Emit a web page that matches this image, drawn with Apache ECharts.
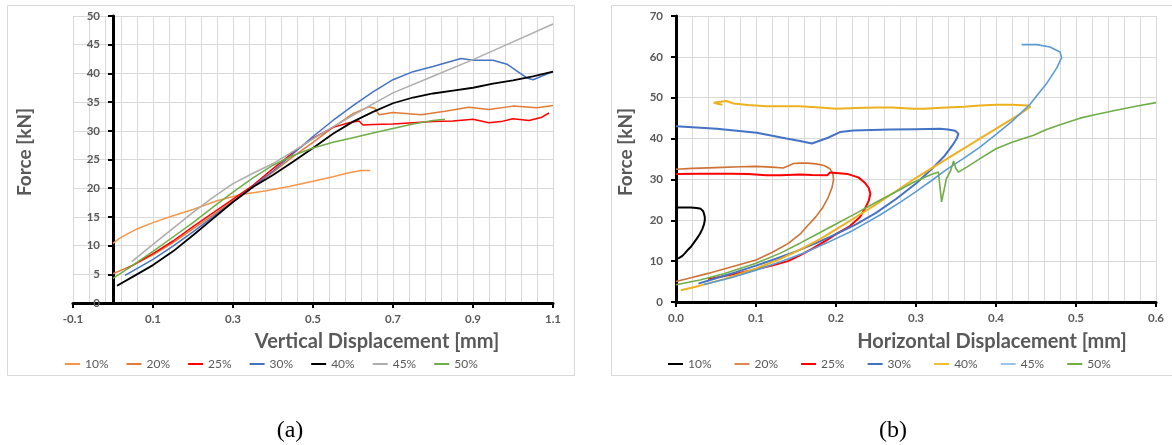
<!DOCTYPE html>
<html>
<head>
<meta charset="utf-8">
<script src="https://cdn.jsdelivr.net/npm/echarts@6/dist/echarts.min.js"></script>
<style>
  html, body { margin: 0; padding: 0; background: #fff; }
  #chart { width: 1172px; height: 445px; }
</style>
</head>
<body>
<div id="chart"></div>
<script>
// Series names shared by both panels
const seriesNames = ['10%', '20%', '25%', '30%', '40%', '45%', '50%'];

// ---- Panel (a): vertical displacement [mm] vs force [kN] ----
const vX10 = [0, 0.015, 0.035, 0.06, 0.1, 0.15, 0.2, 0.26, 0.32, 0.38, 0.44, 0.5, 0.55, 0.59, 0.62, 0.643];
const vF10 = [10.4, 11.2, 12.0, 12.9, 14.0, 15.2, 16.3, 17.8, 18.9, 19.5, 20.3, 21.2, 22.0, 22.7, 23.1, 23.1];

const vX20 = [0, 0.05, 0.1, 0.15, 0.2, 0.25, 0.3, 0.35, 0.4, 0.45, 0.5, 0.55, 0.6, 0.64, 0.655, 0.665, 0.7, 0.77, 0.83, 0.89, 0.94, 1.0, 1.06, 1.1];
const vF20 = [5.1, 6.6, 8.4, 10.5, 12.9, 15.3, 17.8, 20.3, 22.8, 25.5, 28.0, 30.6, 33.0, 34.2, 33.9, 32.8, 33.2, 32.8, 33.4, 34.1, 33.7, 34.3, 34.0, 34.4];

const vX25 = [0.035, 0.05, 0.1, 0.15, 0.2, 0.25, 0.3, 0.35, 0.4, 0.45, 0.5, 0.55, 0.59, 0.615, 0.625, 0.65, 0.7, 0.75, 0.8, 0.85, 0.9, 0.94, 0.97, 1.0, 1.04, 1.07, 1.09];
const vF25 = [6.0, 6.6, 8.6, 10.8, 13.3, 15.7, 18.1, 20.5, 23.4, 26.2, 28.7, 30.6, 31.4, 31.7, 31.0, 31.1, 31.2, 31.4, 31.6, 31.7, 32.0, 31.4, 31.6, 32.1, 31.8, 32.3, 33.1];

const vX30 = [0.03, 0.05, 0.1, 0.15, 0.2, 0.25, 0.3, 0.35, 0.4, 0.45, 0.5, 0.55, 0.6, 0.65, 0.7, 0.75, 0.8, 0.87, 0.9, 0.95, 0.985, 1.01, 1.035, 1.05, 1.1];
const vF30 = [4.8, 5.6, 7.6, 9.9, 12.4, 15.0, 17.6, 20.3, 23.0, 26.0, 29.0, 31.8, 34.4, 36.8, 38.9, 40.3, 41.2, 42.6, 42.3, 42.3, 41.6, 40.4, 39.2, 38.9, 40.3];

const vX40 = [0.01, 0.05, 0.1, 0.15, 0.2, 0.25, 0.3, 0.35, 0.4, 0.45, 0.5, 0.55, 0.6, 0.65, 0.7, 0.75, 0.8, 0.85, 0.9, 0.95, 1.0, 1.05, 1.1];
const vF40 = [3.0, 4.6, 6.6, 9.0, 11.8, 14.7, 17.6, 20.2, 22.3, 24.6, 27.0, 29.5, 31.6, 33.3, 34.8, 35.8, 36.5, 37.0, 37.5, 38.2, 38.8, 39.5, 40.3];

const vX45 = [0.047, 0.1, 0.15, 0.2, 0.25, 0.3, 0.35, 0.4, 0.45, 0.5, 0.55, 0.6, 0.65, 0.7, 0.8, 0.9, 1.0, 1.1];
const vF45 = [7.2, 10.2, 13.0, 15.8, 18.4, 20.8, 22.6, 24.3, 26.4, 28.6, 30.7, 32.7, 34.7, 36.6, 39.5, 42.4, 45.5, 48.6];

const vX50 = [0, 0.05, 0.1, 0.15, 0.2, 0.25, 0.3, 0.35, 0.4, 0.45, 0.5, 0.55, 0.6, 0.65, 0.7, 0.75, 0.8, 0.83];
const vF50 = [4.3, 6.6, 9.0, 11.5, 14.0, 16.7, 19.3, 21.8, 24.0, 25.7, 27.0, 28.0, 28.8, 29.6, 30.4, 31.2, 31.8, 32.0];

// ---- Panel (b): horizontal displacement [mm] vs force [kN] ----
const hX10 = [0.000, 0.004, 0.008, 0.011, 0.015, 0.019, 0.022, 0.026, 0.030, 0.033, 0.035, 0.036, 0.036, 0.035, 0.034, 0.031, 0.026, 0.018, 0.008, 0.000];
const hF10 = [10.5, 10.8, 11.3, 11.9, 12.8, 13.6, 14.4, 15.5, 16.7, 17.9, 19.0, 20.0, 20.8, 21.6, 22.2, 22.8, 23.0, 23.1, 23.1, 23.1];

const hX20 = [0, 0.02, 0.04, 0.06, 0.08, 0.1, 0.12, 0.14, 0.155, 0.165, 0.175, 0.183, 0.19, 0.195, 0.197, 0.196, 0.1925, 0.185, 0.175, 0.165, 0.155, 0.147, 0.14, 0.134, 0.12, 0.1, 0.08, 0.05, 0.02, 0.0];
const hF20 = [5.0, 6.0, 7.0, 8.1, 9.2, 10.3, 12.1, 14.3, 16.6, 18.8, 20.9, 23.0, 25.5, 28.0, 30.0, 31.5, 32.6, 33.4, 33.8, 34.0, 34.0, 33.9, 33.3, 32.8, 33.0, 33.2, 33.1, 32.9, 32.7, 32.5];

const hX25 = [0.04, 0.07, 0.1, 0.12, 0.14, 0.155, 0.17, 0.188, 0.2, 0.2175, 0.23, 0.236, 0.241, 0.243, 0.241, 0.236, 0.228, 0.215, 0.2, 0.1925, 0.189, 0.17, 0.155, 0.13, 0.113, 0.09, 0.07, 0.03, 0.0];
const hF25 = [5.6, 6.7, 8.0, 8.9, 10.0, 11.4, 13.0, 15.1, 16.6, 18.6, 20.8, 22.8, 24.8, 26.5, 27.9, 29.2, 30.5, 31.3, 31.6, 31.7, 31.0, 31.1, 31.2, 31.0, 31.0, 31.3, 31.4, 31.4, 31.3];

const hX30 = [0.028, 0.05, 0.075, 0.1, 0.125, 0.15, 0.175, 0.2, 0.225, 0.25, 0.275, 0.3, 0.32, 0.335, 0.345, 0.351, 0.353, 0.349, 0.34, 0.33, 0.3, 0.2675, 0.2217, 0.205, 0.19, 0.17, 0.155, 0.138, 0.101, 0.051, 0.0];
const hF30 = [4.5, 5.8, 7.3, 8.9, 10.6, 12.4, 14.4, 16.6, 19.0, 21.8, 25.2, 29.0, 32.6, 35.6, 38.2, 40.0, 41.2, 41.9, 42.2, 42.4, 42.3, 42.2, 42.0, 41.6, 40.2, 38.8, 39.4, 40.0, 41.4, 42.4, 43.0];

const hX40 = [0.006, 0.03, 0.06, 0.1, 0.13, 0.155, 0.18, 0.2, 0.225, 0.25, 0.275, 0.3, 0.33, 0.36, 0.39, 0.41, 0.43, 0.443, 0.44, 0.42, 0.4, 0.38, 0.36, 0.338, 0.31, 0.297, 0.27, 0.25, 0.225, 0.2, 0.18, 0.155, 0.113, 0.09, 0.072, 0.063, 0.055, 0.047, 0.052, 0.058];
const hF40 = [2.9, 4.0, 5.6, 8.2, 10.5, 12.8, 15.4, 17.8, 20.8, 23.9, 27.1, 30.4, 34.0, 37.6, 41.2, 43.6, 46.0, 47.8, 48.1, 48.3, 48.3, 48.1, 47.8, 47.6, 47.3, 47.3, 47.6, 47.6, 47.5, 47.3, 47.6, 47.9, 47.9, 48.2, 48.6, 49.2, 49.0, 48.8, 48.5, 48.3];

const hX45 = [0.035, 0.07, 0.1, 0.13, 0.16, 0.19, 0.22, 0.255, 0.28, 0.3, 0.32, 0.338, 0.36, 0.38, 0.4, 0.42, 0.4425, 0.463, 0.476, 0.482, 0.48, 0.4675, 0.451, 0.432];
const hF45 = [4.3, 6.0, 7.8, 9.8, 12.0, 14.6, 17.4, 21.3, 24.4, 27.0, 29.8, 32.4, 35.2, 37.9, 41.0, 44.2, 48.4, 53.4, 57.3, 59.8, 61.2, 62.4, 63.0, 63.0];

const hX50 = [0, 0.03, 0.06, 0.1, 0.13, 0.155, 0.176, 0.2, 0.225, 0.25, 0.275, 0.297, 0.3175, 0.328, 0.332, 0.338, 0.343, 0.347, 0.35, 0.353, 0.3634, 0.38, 0.4, 0.42, 0.447, 0.463, 0.48, 0.505, 0.525, 0.547, 0.575, 0.6];
const hF50 = [4.2, 5.4, 6.9, 9.5, 11.9, 14.4, 16.6, 19.1, 21.7, 24.4, 27.0, 29.3, 31.1, 31.8, 24.5, 30.2, 32.0, 34.5, 32.6, 31.8, 33.0, 35.1, 37.5, 39.1, 40.8, 42.2, 43.4, 45.0, 45.9, 46.8, 47.9, 48.8];

// Tick labels
const xTicksA = [-0.1, 0.1, 0.3, 0.5, 0.7, 0.9, 1.1];
const xTicksB = [0, 0.1, 0.2, 0.3, 0.4, 0.5, 0.6];

// Line colours per panel
const coloursA = ['#F7964B', '#E07B39', '#FF0000', '#4472C4', '#000000', '#ADADAD', '#70AD47'];
const coloursB = ['#000000', '#D07236', '#FF0000', '#4472C4', '#EDB120', '#5B9BD5', '#70AD47'];
const legendColoursB = ['#000000', '#E0874F', '#FF0000', '#4472C4', '#F2BE2C', '#9DC3E6', '#70AD47'];

const panelA = [[vX10, vF10], [vX20, vF20], [vX25, vF25], [vX30, vF30], [vX40, vF40], [vX45, vF45], [vX50, vF50]];
const panelB = [[hX10, hF10], [hX20, hF20], [hX25, hF25], [hX30, hF30], [hX40, hF40], [hX45, hF45], [hX50, hF50]];

const zip = (xs, ys) => xs.map((x, i) => [x, ys[i]]);

const TEXT = '#595959';
const GRID = '#d9d9d9';
const FONT = 'Lato';

const labelStyle = { color: TEXT, fontFamily: FONT, fontWeight: 'bold', fontSize: 11.5 };
const axisLineStyle = { color: '#000', width: 3 };
const tickStyle = { color: '#000', width: 2 };

const series = [];
panelA.forEach(([xs, ys], i) => {
  series.push({
    name: seriesNames[i], type: 'line', xAxisIndex: 0, yAxisIndex: 0,
    data: zip(xs, ys), showSymbol: false, symbol: 'none', smooth: false,
    lineStyle: { color: coloursA[i], width: i === 4 ? 1.8 : 1.5 },
    itemStyle: { color: coloursA[i] }, emphasis: { disabled: true }, z: 2 + i
  });
});
panelB.forEach(([xs, ys], i) => {
  series.push({
    name: seriesNames[i], type: 'line', xAxisIndex: 2, yAxisIndex: 1,
    data: zip(xs, ys), showSymbol: false, symbol: 'none', smooth: false,
    lineStyle: { color: coloursB[i], width: (i === 0 || i === 2 || i === 3 || i === 4) ? 2 : 1.6 },
    itemStyle: { color: coloursB[i] }, emphasis: { disabled: true }, z: 2 + i
  });
});

const legendText = { color: TEXT, fontFamily: FONT, fontSize: 12 };

const option = {
  animation: false,
  backgroundColor: '#fff',
  grid: [
    { left: 73, top: 16, width: 480, height: 287 },
    { left: 676, top: 16, width: 480, height: 286 }
  ],
  xAxis: [
    {
      gridIndex: 0, type: 'value', min: -0.1, max: 1.1,
      axisLine: { onZero: true, lineStyle: axisLineStyle },
      axisTick: { show: true, length: 5, lineStyle: tickStyle, customValues: xTicksA },
      axisLabel: Object.assign({ margin: 10, customValues: xTicksA, formatter: v => v.toFixed(1) }, labelStyle),
      splitLine: { show: false }
    },
    {
      // grid lines for panel (a), every 0.04 mm starting at the left edge
      gridIndex: 0, type: 'value', min: 0, max: 1.2, interval: 0.04,
      axisLine: { show: false, onZero: false }, axisTick: { show: false }, axisLabel: { show: false },
      splitLine: { show: true, lineStyle: { color: GRID, width: 1 } }
    },
    {
      gridIndex: 1, type: 'value', min: 0, max: 0.6, interval: 0.1,
      axisLine: { onZero: true, lineStyle: axisLineStyle },
      axisTick: { show: true, length: 5, lineStyle: tickStyle, customValues: xTicksB },
      axisLabel: Object.assign({ margin: 10, customValues: xTicksB, formatter: v => v.toFixed(1) }, labelStyle),
      splitLine: { show: true, lineStyle: { color: GRID, width: 1 } },
      minorTick: { show: false, splitNumber: 5 },
      minorSplitLine: { show: true, lineStyle: { color: GRID, width: 1 } }
    }
  ],
  yAxis: [
    {
      // axis line sits at x = 0; labels are placed beside it
      gridIndex: 0, type: 'value', min: 0, max: 50, interval: 5,
      axisLine: { show: true, onZero: true, onZeroAxisIndex: 0, lineStyle: axisLineStyle },
      axisTick: { show: true, length: 5, lineStyle: tickStyle },
      axisLabel: Object.assign({ margin: -27 }, labelStyle),
      splitLine: { show: true, lineStyle: { color: GRID, width: 1 } }
    },
    {
      gridIndex: 1, type: 'value', min: 0, max: 70, interval: 10,
      axisLine: { show: true, onZero: false, lineStyle: axisLineStyle },
      axisTick: { show: true, length: 5, lineStyle: tickStyle },
      axisLabel: Object.assign({ margin: 13 }, labelStyle),
      splitLine: { show: true, lineStyle: { color: GRID, width: 1 } }
    }
  ],
  legend: [
    {
      left: 65, top: 358, padding: 0, icon: 'rect', itemWidth: 15, itemHeight: 2, itemGap: 18,
      textStyle: legendText, selectedMode: false,
      data: seriesNames.map((n, i) => ({ name: n, itemStyle: { color: coloursA[i] } }))
    },
    {
      left: 668, top: 358, padding: 0, icon: 'rect', itemWidth: 15, itemHeight: 2, itemGap: 23,
      textStyle: legendText, selectedMode: false,
      data: seriesNames.map((n, i) => ({ name: n, itemStyle: { color: legendColoursB[i] } }))
    }
  ],
  graphic: [
    { type: 'rect', silent: true, shape: { x: 7.5, y: 5.5, width: 567, height: 370 },
      style: { fill: null, stroke: GRID, lineWidth: 1 }, z: -10 },
    { type: 'rect', silent: true, shape: { x: 611.5, y: 5.5, width: 600, height: 370 },
      style: { fill: null, stroke: GRID, lineWidth: 1 }, z: -10 },
    { type: 'text', x: 25, y: 152, rotation: Math.PI / 2, silent: true,
      style: { text: 'Force [kN]', fill: TEXT, font: 'bold 19px Lato', align: 'center', verticalAlign: 'middle' } },
    { type: 'text', x: 626, y: 152, rotation: Math.PI / 2, silent: true,
      style: { text: 'Force [kN]', fill: TEXT, font: 'bold 19px Lato', align: 'center', verticalAlign: 'middle' } },
    { type: 'text', x: 377, y: 342, silent: true,
      style: { text: 'Vertical Displacement [mm]', fill: TEXT, font: 'bold 20px Lato', align: 'center', verticalAlign: 'middle' } },
    { type: 'text', x: 992, y: 342, silent: true,
      style: { text: 'Horizontal Displacement [mm]', fill: TEXT, font: 'bold 20px Lato', align: 'center', verticalAlign: 'middle' } },
    { type: 'text', x: 290, y: 431, silent: true,
      style: { text: '(a)', fill: '#000', font: '24px "Liberation Serif"', align: 'center', verticalAlign: 'middle' } },
    { type: 'text', x: 893, y: 431, silent: true,
      style: { text: '(b)', fill: '#000', font: '24px "Liberation Serif"', align: 'center', verticalAlign: 'middle' } }
  ],
  series: series
};

const chart = echarts.init(document.getElementById('chart'), null, { renderer: 'canvas' });
chart.setOption(option);
</script>
</body>
</html>
